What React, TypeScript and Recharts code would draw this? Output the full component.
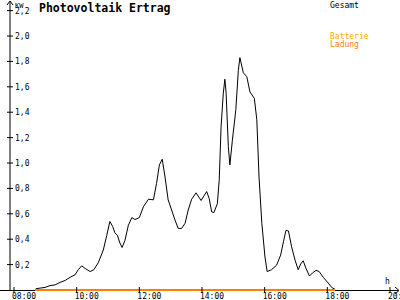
import { Line, LineChart, XAxis, YAxis } from "recharts"

// decimal hours of the day
const times = [
  8.67, 8.7, 8.83, 8.99, 9.15, 9.31, 9.47, 9.63, 9.79, 9.95, 10.05, 10.16, 10.27, 10.43, 10.55,
  10.69, 10.85, 10.96, 11.06, 11.15, 11.22, 11.3, 11.38, 11.45, 11.54, 11.65, 11.76, 11.86, 12.0,
  12.13, 12.29, 12.45, 12.55, 12.64, 12.73, 12.82, 12.92, 13.03, 13.14, 13.24, 13.35, 13.46,
  13.56, 13.67, 13.81, 13.97, 14.15, 14.23, 14.31, 14.38, 14.49, 14.55, 14.61, 14.68, 14.73,
  14.77, 14.84, 14.89, 14.97, 15.08, 15.16, 15.21, 15.32, 15.43, 15.53, 15.67, 15.75, 15.82,
  15.91, 16.01, 16.08, 16.22, 16.38, 16.51, 16.6, 16.68, 16.76, 16.86, 16.97, 17.07, 17.15,
  17.23, 17.32, 17.43, 17.53, 17.64, 17.74, 17.87, 18.03, 18.14, 18.25,
]

// Gesamt, kW
const gesamt = [
  0, 0.01, 0.015, 0.02, 0.035, 0.04, 0.06, 0.075, 0.1, 0.12, 0.16, 0.19, 0.17, 0.145, 0.16,
  0.215, 0.315, 0.43, 0.54, 0.5, 0.45, 0.43, 0.37, 0.335, 0.39, 0.51, 0.57, 0.555, 0.57,
  0.655, 0.715, 0.71, 0.84, 0.985, 1.03, 0.89, 0.71, 0.63, 0.55, 0.485, 0.485, 0.525,
  0.63, 0.715, 0.765, 0.705, 0.775, 0.72, 0.615, 0.61, 0.68, 0.865, 1.29, 1.55, 1.66,
  1.55, 1.13, 0.985, 1.18, 1.42, 1.73, 1.83, 1.71, 1.68, 1.56, 1.51, 1.34, 0.89,
  0.525, 0.26, 0.145, 0.16, 0.195, 0.275, 0.38, 0.47, 0.465, 0.34, 0.235, 0.16, 0.205,
  0.23, 0.17, 0.11, 0.135, 0.155, 0.145, 0.1, 0.055, 0.02, 0.005,
]

// Batterie Ladung, kW (start and end of the logged period)
const ladungTimes = [8.67, 18.25]
const ladung = [0, 0]

const xTicks = [8, 10, 12, 14, 16, 18, 20]
const yTicks = [0.2, 0.4, 0.6, 0.8, 1.0, 1.2, 1.4, 1.6, 1.8, 2.0, 2.2]

const data = times.map((t, i) => {
  const j = ladungTimes.indexOf(t)
  return { t, gesamt: gesamt[i], ladung: j >= 0 ? ladung[j] : null }
})

const FONT = "'DejaVu Sans Mono', 'Liberation Mono', monospace"
const LEFT = 10
const BOTTOM = 290
const ORANGE = "#ff8000"
const GOLD = "#ffaa00"

const pad = (n: number) => (n < 10 ? `0${n}` : `${n}`)

function XTick(props: any) {
  const { x, payload } = props
  return (
    <g>
      <line x1={x} x2={x} y1={BOTTOM - 3} y2={BOTTOM + 3} stroke="#000" />
      <text x={x - 2} y={299} fontSize={8} fontFamily={FONT} fill="#000">
        {`${pad(payload.value)}:00`}
      </text>
    </g>
  )
}

function YTick(props: any) {
  const { y, payload } = props
  return (
    <g>
      <line x1={LEFT - 3} x2={LEFT + 3} y1={y} y2={y} stroke="#000" />
      <text x={LEFT + 5} y={y + 3} fontSize={8} fontFamily={FONT} fill="#000">
        {payload.value.toFixed(1).replace(".", ",")}
      </text>
    </g>
  )
}

export default function App() {
  return (
    <div style={{ position: "absolute", left: 0, top: 0, width: 400, height: 300, background: "#fff" }}>
      {/* baseline and arrows sit underneath so the Ladung line covers the axis */}
      <svg width={400} height={300} style={{ position: "absolute", left: 0, top: 0 }}>
        <line x1={0} x2={398} y1={BOTTOM + 0.5} y2={BOTTOM + 0.5} stroke="#000" />
        <polyline points="7,5 10,1 13,5" fill="none" stroke="#000" />
        <polyline points="395,287 399,290.5 395,294" fill="none" stroke="#000" />
        <text x={15} y={8} fontSize={7} fontFamily={FONT} fill="#000">KW</text>
        <text x={39} y={12} fontSize={11.5} fontWeight="bold" fontFamily={FONT} fill="#000">
          Photovoltaik Ertrag
        </text>
        <text x={385} y={284} fontSize={8} fontFamily={FONT} fill="#000">h</text>
        <text x={330} y={8} fontSize={8} fontFamily={FONT} fill="#000">Gesamt</text>
        <text x={330} y={39} fontSize={8} fontFamily={FONT} fill={GOLD}>Batterie</text>
        <text x={330} y={47} fontSize={8} fontFamily={FONT} fill={ORANGE}>Ladung</text>
      </svg>
      <div style={{ position: "absolute", left: 0, top: 0 }}>
        <LineChart data={data} width={400} height={300} margin={{ top: 2, right: 2, left: 0, bottom: 0 }}>
          <XAxis
            type="number"
            dataKey="t"
            domain={[7.872, 20.256]}
            ticks={xTicks}
            height={10}
            axisLine={false}
            tickLine={false}
            tick={<XTick />}
          />
          <YAxis
            type="number"
            domain={[0, 2.268]}
            ticks={yTicks}
            width={10}
            stroke="#000"
            tickLine={false}
            tick={<YTick />}
          />
          <Line
            dataKey="gesamt"
            type="linear"
            stroke="#000"
            strokeWidth={1}
            dot={false}
            isAnimationActive={false}
          />
          <Line
            dataKey="ladung"
            type="linear"
            connectNulls
            stroke={ORANGE}
            strokeWidth={2}
            dot={false}
            isAnimationActive={false}
          />
        </LineChart>
      </div>
    </div>
  )
}
